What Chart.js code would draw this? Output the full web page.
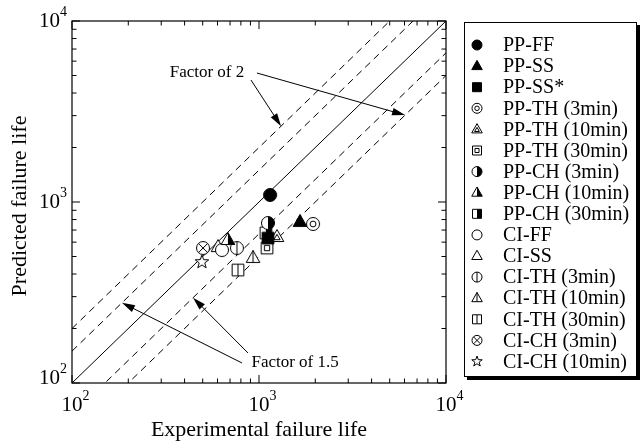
<!DOCTYPE html>
<html>
<head>
<meta charset="utf-8">
<script src="https://cdn.jsdelivr.net/npm/chart.js@4.4.1/dist/chart.umd.min.js"></script>
<style>
  html, body { margin: 0; padding: 0; background: #fff; }
  #wrap { width: 642px; height: 444px; }
</style>
</head>
<body>
<div id="wrap"><canvas id="lifeChart" width="642" height="444"></canvas></div>
<script>
// series
const seriesNames = ["PP-FF", "PP-SS", "PP-SS*", "PP-TH (3min)", "PP-TH (10min)", "PP-TH (30min)",
    "PP-CH (3min)", "PP-CH (10min)", "PP-CH (30min)", "CI-FF", "CI-SS", "CI-TH (3min)",
    "CI-TH (10min)", "CI-TH (30min)", "CI-CH (3min)", "CI-CH (10min)"];
const experimentalLife = [1146, 1656, 1117, 1945, 1248, 1104, 1117, 682, 1089, 634, 604, 762, 929, 772, 502, 495];
const predictedLife = [1094, 776, 632, 756, 641, 557, 765, 617, 675, 543, 564, 557, 491, 421, 557, 466];
const axisTicks = [100, 1000, 10000];
const factorLines = [1, 2, 1 / 2, 1.5, 1 / 1.5];

// marker look for each series (same order as seriesNames)
const markerShapes = ["f-circle", "f-tri", "f-sq", "d-circle", "d-tri", "d-sq", "h-circle", "h-tri", "h-sq",
    "o-circle", "o-tri", "v-circle", "v-tri", "v-sq", "x-circle", "o-star"];

const serif = "'Liberation Serif', 'Times New Roman', serif";

function outline(ctx, kind, x, y, s) {
    ctx.beginPath();
    if (kind === "circle") {
        ctx.arc(x, y, s, 0, Math.PI * 2);
    } else if (kind === "sq") {
        ctx.rect(x - s * 0.9, y - s * 0.9, s * 1.8, s * 1.8);
    } else if (kind === "tri") {
        ctx.moveTo(x, y - s * 1.15);
        ctx.lineTo(x + s * 1.05, y + s * 0.7);
        ctx.lineTo(x - s * 1.05, y + s * 0.7);
        ctx.closePath();
    } else if (kind === "star") {
        for (let i = 0; i < 10; i++) {
            const r = i % 2 ? s * 0.45 : s * 1.1;
            const a = -Math.PI / 2 + i * Math.PI / 5;
            const px = x + r * Math.cos(a), py = y + r * Math.sin(a);
            if (i) ctx.lineTo(px, py); else ctx.moveTo(px, py);
        }
        ctx.closePath();
    }
}

function drawMarker(ctx, shape, x, y, s) {
    const mode = shape.split("-")[0];
    const kind = shape.split("-")[1];
    ctx.save();
    ctx.lineWidth = 1;
    ctx.strokeStyle = "#000";
    outline(ctx, kind, x, y, s);
    ctx.fillStyle = mode === "f" ? "#000" : "#fff";
    ctx.fill();
    if (mode === "h") {
        ctx.save();
        ctx.beginPath();
        ctx.rect(x, y - s * 2, s * 2, s * 4);
        ctx.clip();
        outline(ctx, kind, x, y, s);
        ctx.fillStyle = "#000";
        ctx.fill();
        ctx.restore();
    }
    outline(ctx, kind, x, y, s);
    ctx.stroke();
    if (mode === "d") {
        outline(ctx, kind, x, kind === "tri" ? y + s * 0.1 : y, s * 0.45);
        ctx.stroke();
    }
    if (mode === "v") {
        const top = kind === "tri" ? y - s * 1.15 : (kind === "sq" ? y - s * 0.9 : y - s);
        const bot = kind === "tri" ? y + s * 0.7 : (kind === "sq" ? y + s * 0.9 : y + s);
        ctx.beginPath();
        ctx.moveTo(x, top);
        ctx.lineTo(x, bot);
        ctx.stroke();
    }
    if (mode === "x") {
        const d = s * 0.7;
        ctx.beginPath();
        ctx.moveTo(x - d, y - d); ctx.lineTo(x + d, y + d);
        ctx.moveTo(x + d, y - d); ctx.lineTo(x - d, y + d);
        ctx.stroke();
    }
    ctx.restore();
}

function markerCanvas(shape) {
    const c = document.createElement("canvas");
    c.width = 18;
    c.height = 18;
    drawMarker(c.getContext("2d"), shape, 9, 9, 6.5);
    return c;
}

// text + arrows, placed in data space
const notes = [
    { text: "Factor of 2", at: [527, 5220],
      arrows: [[[906, 4720], [1312, 2 * 1312]], [[975, 5160], [6040, 6040 / 2]]] },
    { text: "Factor of 1.5", at: [1560, 129],
      arrows: [[[811, 129], [185, 185 * 1.5]], [[873, 146.5], [444, 444 / 1.5]]] }
];

function arrow(ctx, x1, y1, x2, y2) {
    const a = Math.atan2(y2 - y1, x2 - x1);
    const len = 13, half = 3.8;
    ctx.beginPath();
    ctx.moveTo(x1, y1);
    ctx.lineTo(x2 - Math.cos(a) * len * 0.8, y2 - Math.sin(a) * len * 0.8);
    ctx.stroke();
    ctx.beginPath();
    ctx.moveTo(x2, y2);
    ctx.lineTo(x2 - Math.cos(a) * len - Math.sin(a) * half, y2 - Math.sin(a) * len + Math.cos(a) * half);
    ctx.lineTo(x2 - Math.cos(a) * len + Math.sin(a) * half, y2 - Math.sin(a) * len - Math.cos(a) * half);
    ctx.closePath();
    ctx.fill();
}

function powerLabel(ctx, v, x, y, align) {
    const exp = String(Math.round(Math.log10(v)));
    ctx.font = "21px " + serif;
    const w = ctx.measureText("10").width;
    ctx.font = "14px " + serif;
    const we = ctx.measureText(exp).width;
    let left = align === "center" ? x - w / 2 : x - w - we;
    ctx.textAlign = "left";
    ctx.textBaseline = "middle";
    ctx.font = "21px " + serif;
    ctx.fillText("10", left, y);
    ctx.font = "14px " + serif;
    ctx.fillText(exp, left + w, y - 9);
}

const framePlugin = {
    id: "frame",
    afterDraw(chart) {
        const ctx = chart.ctx;
        const a = chart.chartArea;
        const xs = chart.scales.x, ys = chart.scales.y;
        ctx.save();
        ctx.strokeStyle = "#000";
        ctx.fillStyle = "#000";
        ctx.lineWidth = 1.2;
        ctx.strokeRect(a.left, a.top, a.right - a.left, a.bottom - a.top);

        // inward ticks on all four sides
        ctx.lineWidth = 1;
        const ticks = [];
        axisTicks.forEach((d, i) => {
            ticks.push([d, 8]);
            if (i < axisTicks.length - 1) for (let m = 2; m <= 9; m++) ticks.push([d * m, 4.5]);
        });
        ctx.beginPath();
        ticks.forEach(([v, len]) => {
            const px = xs.getPixelForValue(v), py = ys.getPixelForValue(v);
            ctx.moveTo(px, a.bottom); ctx.lineTo(px, a.bottom - len);
            ctx.moveTo(px, a.top); ctx.lineTo(px, a.top + len);
            ctx.moveTo(a.left, py); ctx.lineTo(a.left + len, py);
            ctx.moveTo(a.right, py); ctx.lineTo(a.right - len, py);
        });
        ctx.stroke();

        axisTicks.forEach(v => {
            powerLabel(ctx, v, xs.getPixelForValue(v), a.bottom + 22, "center");
            powerLabel(ctx, v, a.left - 5, ys.getPixelForValue(v) - (v === 100 ? 5 : 0), "right");
        });

        // axis titles
        ctx.font = "22px " + serif;
        ctx.textAlign = "center";
        ctx.textBaseline = "alphabetic";
        ctx.fillText("Experimental failure life", (a.left + a.right) / 2, 436);
        ctx.save();
        ctx.translate(26, (a.top + a.bottom) / 2 + 4);
        ctx.rotate(-Math.PI / 2);
        ctx.fillText("Predicted failure life", 0, 0);
        ctx.restore();

        // factor notes
        ctx.font = "17px " + serif;
        ctx.textBaseline = "middle";
        notes.forEach(n => {
            ctx.fillText(n.text, xs.getPixelForValue(n.at[0]), ys.getPixelForValue(n.at[1]));
            n.arrows.forEach(([p, q]) => {
                arrow(ctx, xs.getPixelForValue(p[0]), ys.getPixelForValue(p[1]),
                    xs.getPixelForValue(q[0]), ys.getPixelForValue(q[1]));
            });
        });

        // legend box
        const bx = 464, by = 22, bw = 173, bh = 355;
        ctx.fillStyle = "#000";
        ctx.fillRect(bx + 3, by + 3, bw, bh);
        ctx.fillStyle = "#fff";
        ctx.fillRect(bx, by, bw, bh);
        ctx.lineWidth = 1;
        ctx.strokeRect(bx + 0.5, by + 0.5, bw - 1, bh - 1);
        ctx.fillStyle = "#000";
        ctx.font = "20px " + serif;
        ctx.textAlign = "left";
        ctx.textBaseline = "middle";
        seriesNames.forEach((name, i) => {
            const ry = 45 + i * 21.1;
            drawMarker(ctx, markerShapes[i], 477, ry, 5);
            ctx.fillStyle = "#000";
            ctx.fillText(name, 503, ry + 1);
        });
        ctx.restore();
    }
};

const pointSets = seriesNames.map((name, i) => ({
    label: name,
    data: [{ x: experimentalLife[i], y: predictedLife[i] }],
    pointStyle: markerCanvas(markerShapes[i]),
    pointRadius: 7,
    showLine: false
}));

const lineSets = factorLines.map(f => ({
    label: "factor " + f,
    data: [{ x: axisTicks[0], y: axisTicks[0] * f }, { x: axisTicks[2], y: axisTicks[2] * f }],
    showLine: true,
    borderColor: "#000",
    borderWidth: 1,
    borderDash: f === 1 ? [] : [7, 5],
    pointRadius: 0
}));

new Chart(document.getElementById("lifeChart").getContext("2d"), {
    type: "scatter",
    data: { datasets: pointSets.concat(lineSets) },
    options: {
        responsive: false,
        animation: false,
        devicePixelRatio: 1,
        events: [],
        layout: { padding: { top: 21, right: 196, left: 0, bottom: 0 } },
        plugins: { legend: { display: false }, tooltip: { enabled: false } },
        scales: {
            x: {
                type: "logarithmic", min: 100, max: 10000,
                grid: { display: false }, border: { display: false }, ticks: { display: false },
                afterFit: s => { s.height = 61; }
            },
            y: {
                type: "logarithmic", min: 100, max: 10000,
                grid: { display: false }, border: { display: false }, ticks: { display: false },
                afterFit: s => { s.width = 72; }
            }
        }
    },
    plugins: [framePlugin]
});
</script>
</body>
</html>
